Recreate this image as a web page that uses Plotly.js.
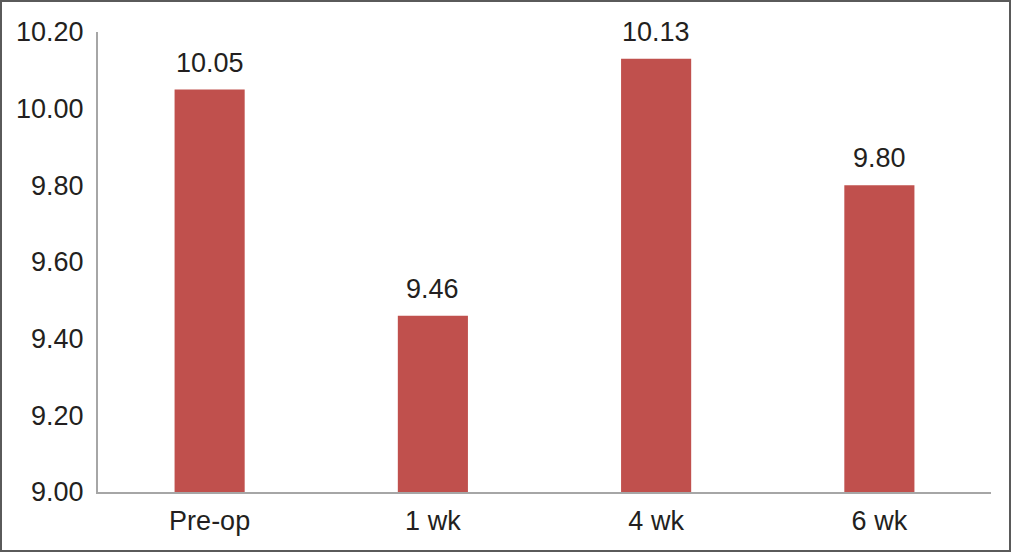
<!DOCTYPE html>
<html>
<head>
<meta charset="utf-8">
<script src="https://cdn.plot.ly/plotly-3.0.1.min.js"></script>
<style>
html,body{margin:0;padding:0;background:#fff;}
#wrap{width:1011px;height:552px;box-sizing:border-box;border:2px solid #5a5a5a;background:#fff;}
#chart{width:1007px;height:548px;}
</style>
</head>
<body>
<div id="wrap"><div id="chart"></div></div>
<script>
const categories = ["Pre-op", "1 wk", "4 wk", "6 wk"];
const values = [10.05, 9.46, 10.13, 9.80];
const valueLabels = ["10.05", "9.46", "10.13", "9.80"];
const yTicks = [9.0, 9.2, 9.4, 9.6, 9.8, 10.0, 10.2];
const yTickLabels = ["9.00", "9.20", "9.40", "9.60", "9.80", "10.00", "10.20"];

const font = {family: "Liberation Sans, Arial, sans-serif", size: 27, color: "#231f20"};

const trace = {
  type: "bar",
  x: categories,
  y: values,
  marker: {color: "#c0504d"},
  hoverinfo: "none"
};

const annotations = categories.map((c, i) => ({
  x: c, y: values[i], xref: "x", yref: "y",
  text: valueLabels[i], showarrow: false,
  yanchor: "bottom", yshift: 10, font: font
}));

const layout = {
  width: 1007, height: 548,
  margin: {l: 96, r: 18, t: 30, b: 58},
  paper_bgcolor: "#fff", plot_bgcolor: "#fff",
  bargap: 0.686,
  showlegend: false,
  font: font,
  xaxis: {
    showline: true, linecolor: "#a6a6a6", linewidth: 2,
    ticks: "", showgrid: false, zeroline: false,
    tickfont: font, ticklabelstandoff: 4
  },
  yaxis: {
    range: [9.0, 10.2], showline: true, linecolor: "#a6a6a6", linewidth: 2,
    tickvals: yTicks, ticktext: yTickLabels, ticks: "",
    showgrid: false, zeroline: false, tickfont: font, ticklabelstandoff: 7
  },
  annotations: annotations
};

Plotly.newPlot("chart", [trace], layout, {displayModeBar: false, staticPlot: true});
</script>
</body>
</html>
